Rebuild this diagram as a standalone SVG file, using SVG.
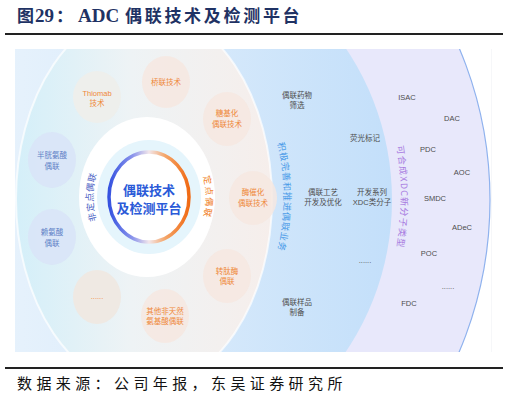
<svg xmlns="http://www.w3.org/2000/svg" width="509" height="402" viewBox="0 0 509 402">
<style>
.title{font-family:"Noto Sans CJK SC","Liberation Sans",sans-serif;font-weight:bold;fill:#1f3264;font-size:17px}
.tlat{font-family:"Liberation Serif","Noto Sans CJK SC",serif;font-weight:bold;font-size:19px}
.foot{font-family:"Noto Sans CJK SC","Liberation Sans",sans-serif;font-size:15px;fill:#111;letter-spacing:4.4px}
.nl{font-family:"Liberation Sans","Noto Sans CJK SC",sans-serif;font-size:7.5px;text-anchor:middle}
.or{fill:#ef8838}
.bl{fill:#5d7fc6}
.gr{fill:#4d4d4d}
.nodeO{fill:#f6e8e1;opacity:0.85}
.nodeB{fill:#d9e4f7;opacity:0.9}
.arc{font-family:"Noto Sans CJK SC","Liberation Sans",sans-serif;font-size:9px}
</style>
<defs>
<clipPath id="clip"><rect x="15" y="49" width="477" height="303"/></clipPath>
<linearGradient id="gBlue" x1="0" y1="0" x2="1" y2="0">
<stop offset="0" stop-color="#eef6fd"/>
<stop offset="0.5" stop-color="#dcecfb"/>
<stop offset="1" stop-color="#c3dffa"/>
</linearGradient>
<linearGradient id="gDisc" x1="0" y1="0" x2="1" y2="0">
<stop offset="0" stop-color="#d4eff9"/>
<stop offset="0.45" stop-color="#eef3f5"/>
<stop offset="1" stop-color="#f6eeeb"/>
</linearGradient>
<linearGradient id="gRing" x1="0" y1="0" x2="1" y2="0">
<stop offset="0" stop-color="#3552e0"/>
<stop offset="0.3" stop-color="#8d96ec"/>
<stop offset="0.5" stop-color="#f2e6ea"/>
<stop offset="0.7" stop-color="#f4a66a"/>
<stop offset="1" stop-color="#f06a14"/>
</linearGradient>
<path id="pLeft" d="M149,263 A56,66 0 0 1 149,131"/>
<path id="pRight" d="M149,131 A57,66 0 0 1 149,263"/>
<path id="pBlue" d="M146,19 A138,178 0 0 1 146,375"/>
<path id="pPurple" d="M146,-83 A255,280 0 0 1 146,477"/>
</defs>
<rect width="509" height="402" fill="#fff"/>
<g id="header">
<text class="title" y="22"><tspan x="17">图</tspan><tspan class="tlat" x="35">29</tspan><tspan x="56">：</tspan><tspan class="tlat" x="78">ADC</tspan><tspan x="125" letter-spacing="2.7">偶联技术及检测平台</tspan></text>
<rect x="5" y="33" width="498" height="2" fill="#222"/>
</g>
<g id="background" clip-path="url(#clip)">
<ellipse cx="146" cy="200" rx="344" ry="367" fill="#e8e8fb" stroke="#8fb2ee" stroke-width="1.2"/>
<ellipse cx="146" cy="200" rx="246" ry="260" fill="url(#gBlue)"/>
<ellipse cx="144" cy="199" rx="128" ry="190" fill="url(#gDisc)" stroke="#fff" stroke-opacity="0.7" stroke-width="2"/>
<ellipse cx="147" cy="197" rx="68" ry="80" fill="#fff"/>
<ellipse cx="149" cy="197" rx="52" ry="57" fill="#e5f5fc"/>
<ellipse cx="149" cy="197" rx="40" ry="45" fill="#fff" stroke="url(#gRing)" stroke-width="3.5"/>
<line x1="492" y1="49" x2="492" y2="352" stroke="#eceef2" stroke-width="1"/>
</g>
<g id="center">
<text font-family="Noto Sans CJK SC,sans-serif" font-weight="bold" font-size="13" fill="#2a5ad8" text-anchor="middle"><tspan x="149" y="195">偶联技术</tspan><tspan x="149" y="213">及检测平台</tspan></text>
</g>
<g id="arc-labels">
<text class="arc" fill="#4c5fc4" letter-spacing="0.6"><textPath href="#pLeft" startOffset="50%" text-anchor="middle">非定点偶联</textPath></text>
<text class="arc" fill="#f07c22" letter-spacing="1.5"><textPath href="#pRight" startOffset="50%" text-anchor="middle">定点偶联</textPath></text>
<text class="arc" font-size="10" fill="#4a9be8" letter-spacing="0.9"><textPath href="#pBlue" startOffset="50%" text-anchor="middle">积极完善和推进偶联业务</textPath></text>
<text class="arc" font-size="10" fill="#a77ae0" letter-spacing="1.2"><textPath href="#pPurple" startOffset="50%" text-anchor="middle">可合成XDC新分子类型</textPath></text>
</g>
<g id="node-qiaolian"><ellipse class="nodeO" cx="166" cy="82" rx="24" ry="26"/><text class="nl or" x="166" y="85">桥联技术</text></g>
<g id="node-thiomab"><ellipse cx="97" cy="97" rx="24" ry="26" fill="#eeefec"/><text class="nl or"><tspan x="97" y="96">Thiomab</tspan><tspan x="97" y="106">技术</tspan></text></g>
<g id="node-tangjihua"><ellipse class="nodeO" cx="227" cy="119" rx="24" ry="27"/><text class="nl or"><tspan x="227" y="116">糖基化</tspan><tspan x="227" y="127">偶联技术</tspan></text></g>
<g id="node-banguang"><ellipse class="nodeB" cx="52" cy="160" rx="24" ry="28"/><text class="nl bl"><tspan x="52" y="158">半胱氨酸</tspan><tspan x="52" y="169">偶联</tspan></text></g>
<g id="node-meicuihua"><ellipse class="nodeO" cx="253" cy="198" rx="24" ry="27"/><text class="nl or"><tspan x="253" y="195">酶催化</tspan><tspan x="253" y="206">偶联技术</tspan></text></g>
<g id="node-lai"><ellipse class="nodeB" cx="52" cy="237" rx="24" ry="28"/><text class="nl bl"><tspan x="52" y="235">赖氨酸</tspan><tspan x="52" y="246">偶联</tspan></text></g>
<g id="node-zhuantai"><ellipse class="nodeO" cx="227" cy="276" rx="24" ry="27"/><text class="nl or"><tspan x="227" y="274">转肽酶</tspan><tspan x="227" y="284">偶联</tspan></text></g>
<g id="node-more"><ellipse cx="97" cy="297" rx="24" ry="27" fill="#efe9e3"/><text class="nl or" x="97" y="299">......</text></g>
<g id="node-qita"><ellipse class="nodeO" cx="165" cy="316" rx="24" ry="27"/><text class="nl or"><tspan x="165" y="314">其他非天然</tspan><tspan x="165" y="324">氨基酸偶联</tspan></text></g>
<g id="blue-zone-items">
<g id="item-shaixuan"><text class="nl gr"><tspan x="297" y="98">偶联药物</tspan><tspan x="297" y="108">筛选</tspan></text></g>
<g id="item-yingguang"><text class="nl gr" x="365" y="141">荧光标记</text></g>
<g id="item-gongyi"><text class="nl gr"><tspan x="323" y="195">偶联工艺</tspan><tspan x="323" y="205">开发及优化</tspan></text></g>
<g id="item-xilie"><text class="nl gr"><tspan x="372" y="195">开发系列</tspan><tspan x="372" y="205">XDC类分子</tspan></text></g>
<g id="item-more"><text class="nl gr" x="365" y="263">......</text></g>
<g id="item-yangpin"><text class="nl gr"><tspan x="297" y="305">偶联样品</tspan><tspan x="297" y="315">制备</tspan></text></g>
</g>
<g id="purple-zone-items">
<g id="item-isac"><text class="nl gr" x="407" y="100">ISAC</text></g>
<g id="item-dac"><text class="nl gr" x="452" y="121">DAC</text></g>
<g id="item-pdc"><text class="nl gr" x="428" y="152">PDC</text></g>
<g id="item-aoc"><text class="nl gr" x="462" y="175">AOC</text></g>
<g id="item-smdc"><text class="nl gr" x="435" y="201">SMDC</text></g>
<g id="item-adec"><text class="nl gr" x="462" y="230">ADeC</text></g>
<g id="item-poc"><text class="nl gr" x="429" y="256">POC</text></g>
<g id="item-pmore"><text class="nl gr" x="448" y="289">......</text></g>
<g id="item-fdc"><text class="nl gr" x="409" y="306">FDC</text></g>
</g>
<g id="connectors"/>
<g id="footer">
<rect x="5" y="367" width="498" height="2" fill="#222"/>
<text class="foot" x="17" y="389">数据来源：公司年报，东吴证券研究所</text>
</g>
</svg>
